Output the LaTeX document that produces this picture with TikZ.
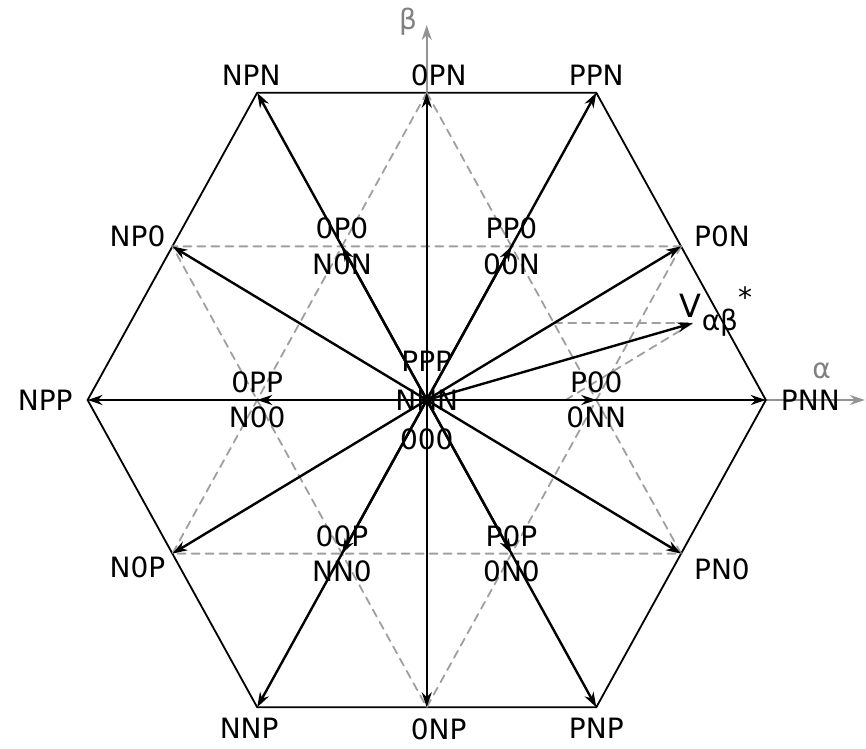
\documentclass[tikz,border=0pt]{standalone}
\usepackage{fontspec}
\setmainfont{DejaVu Sans}
\usepackage{tikz}
\usetikzlibrary{arrows.meta,positioning}
\usepackage{xcolor}

\begin{document}
\begin{tikzpicture}[>={Stealth[length=7.5pt,width=5pt]},font=\fontsize{14}{16}\selectfont,line cap=round,
  hexline/.style={line width=0.9pt},
  vec/.style={->,line width=1.2pt},
  gridline/.style={gray!75,line width=0.9pt,dash pattern=on 4pt off 3pt},
  axisline/.style={->,gray!85,line width=0.9pt}]
\useasboundingbox (-7.50,-6.13) rectangle (7.72,7.03);
% switching states
\coordinate (O) at (0,0);
\coordinate (vPNN) at (5.96,0);
\coordinate (vPPN) at (2.98,5.40);
\coordinate (vNPN) at (-2.98,5.40);
\coordinate (vNPP) at (-5.96,0);
\coordinate (vNNP) at (-2.98,-5.40);
\coordinate (vPNP) at (2.98,-5.40);
\coordinate (vP0N) at (4.47,2.70);
\coordinate (v0PN) at (0,5.40);
\coordinate (vNP0) at (-4.47,2.70);
\coordinate (vN0P) at (-4.47,-2.70);
\coordinate (v0NP) at (0,-5.40);
\coordinate (vPN0) at (4.47,-2.70);
\coordinate (vP00) at (2.98,0);
\coordinate (vPP0) at (1.49,2.70);
\coordinate (v0P0) at (-1.49,2.70);
\coordinate (v0PP) at (-2.98,0);
\coordinate (v00P) at (-1.49,-2.70);
\coordinate (vP0P) at (1.49,-2.70);
% reference vector
\coordinate (Vab) at (4.67,1.35);
\coordinate (Va) at (2.44,0);
\coordinate (Vb) at (2.24,1.35);
% axes
\coordinate (aend) at (7.70,0);
\coordinate (bend) at (0,6.59);
\draw[axisline] (O) -- (aend);
\draw[axisline] (O) -- (bend);
\node[gray] (alab) at (6.94,0.51) {α};
\node[gray] (blab) at (-0.33,6.64) {β};
% hexagon and dashed sectors
\draw[hexline] (vPNN) -- (vPPN) -- (vNPN) -- (vNPP) -- (vNNP) -- (vPNP) -- cycle;
\draw[gridline] (v0PN) -- (vPN0) -- (vN0P) -- cycle;
\draw[gridline] (vP0N) -- (v0NP) -- (vNP0) -- cycle;
\draw[gridline] (Vb) -- (Vab);
\draw[gridline] (Va) -- (Vab);
% voltage vectors
\draw[vec] (O) -- (vPNN);
\draw[vec] (O) -- (vPPN);
\draw[vec] (O) -- (vNPN);
\draw[vec] (O) -- (vNPP);
\draw[vec] (O) -- (vNNP);
\draw[vec] (O) -- (vPNP);
\draw[vec] (O) -- (vP0N);
\draw[vec] (O) -- (v0PN);
\draw[vec] (O) -- (vNP0);
\draw[vec] (O) -- (vN0P);
\draw[vec] (O) -- (v0NP);
\draw[vec] (O) -- (vPN0);
\draw[vec] (O) -- (vP00);
\draw[vec] (O) -- (vPP0);
\draw[vec] (O) -- (v0P0);
\draw[vec] (O) -- (v0PP);
\draw[vec] (O) -- (v00P);
\draw[vec] (O) -- (vP0P);
\draw[vec] (O) -- (Vab);
% outer labels
\node[above,xshift=-3pt] (lNPN) at (vNPN) {NPN};
\node[above,xshift=6pt] (l0PN) at (v0PN) {0PN};
\node[above] (lPPN) at (vPPN) {PPN};
\node[left,yshift=5pt] (lNP0) at (vNP0) {NP0};
\node[right,xshift=3pt,yshift=5pt] (lP0N) at (vP0N) {P0N};
\node[left=4pt] (lNPP) at (vNPP) {NPP};
\node[right=4pt] (lPNN) at (vPNN) {PNN};
\node[left,yshift=-7pt] (lN0P) at (vN0P) {N0P};
\node[right,xshift=3pt,yshift=-8pt] (lPN0) at (vPN0) {PN0};
\node[below,xshift=-4pt,yshift=-2pt] (lNNP) at (vNNP) {NNP};
\node[below,xshift=6pt,yshift=-2pt] (l0NP) at (v0NP) {0NP};
\node[below,yshift=-2pt] (lPNP) at (vPNP) {PNP};
% inner labels
\node[above] (l0P0) at (v0P0) {0P0};
\node[below] (lN0N) at (v0P0) {N0N};
\node[above] (lPP0) at (vPP0) {PP0};
\node[below] (l00N) at (vPP0) {00N};
\node[above] (l0PP) at (v0PP) {0PP};
\node[below] (lN00) at (v0PP) {N00};
\node[above] (lP00) at (vP00) {P00};
\node[below] (l0NN) at (vP00) {0NN};
\node[above] (l00P) at (v00P) {00P};
\node[below] (lNN0) at (v00P) {NN0};
\node[above] (lP0P) at (vP0P) {P0P};
\node[below] (l0N0) at (vP0P) {0N0};
\node (lNNN) at (O) {NNN};
\node[above=2pt of lNNN] (lPPP) {PPP};
\node[below=2pt of lNNN] (l000) {000};
\node[anchor=base west,inner sep=0pt,xshift=-6.5pt,yshift=3pt] (lVab) at (Vab) {{\fontsize{16}{16}\selectfont V}\raisebox{-6.5pt}{αβ}\raisebox{5pt}{*}};
\end{tikzpicture}
\end{document}
